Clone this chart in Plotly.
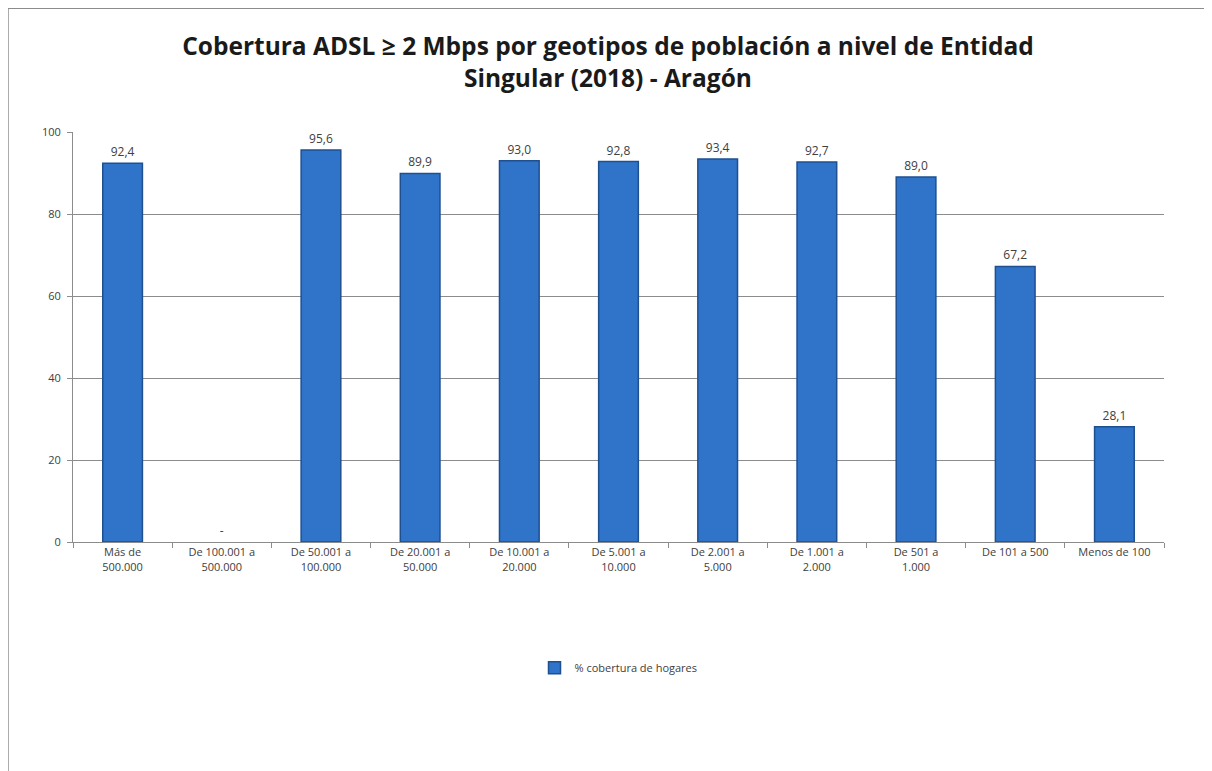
import plotly.graph_objects as go

categories = ["Más de<br>500.000", "De 100.001 a<br>500.000", "De 50.001 a<br>100.000",
              "De 20.001 a<br>50.000", "De 10.001 a<br>20.000", "De 5.001 a<br>10.000",
              "De 2.001 a<br>5.000", "De 1.001 a<br>2.000", "De 501 a<br>1.000",
              "De 101 a 500", "Menos de 100"]
values = [92.4, 0, 95.6, 89.9, 93.0, 92.8, 93.4, 92.7, 89.0, 67.2, 28.1]
labels = ["92,4", "-", "95,6", "89,9", "93,0", "92,8", "93,4", "92,7", "89,0", "67,2", "28,1"]
series_name = "% cobertura de hogares"
title_text = "Cobertura ADSL ≥ 2 Mbps por geotipos de población a nivel de Entidad<br>Singular (2018) - Aragón"
y_ticks = [0, 20, 40, 60, 80, 100]

FONT = "Open Sans"

fig = go.Figure()
fig.add_trace(go.Bar(
    x=categories, y=values, name=series_name,
    text=labels, textposition="outside", cliponaxis=False,
    textfont=dict(family=FONT, size=12, color="#404040"),
    marker=dict(color="#3074C9",
                line=dict(color="#1E4F91", width=[0 if v == 0 else 1.5 for v in values])),
))

fig.update_layout(
    width=1212, height=771,
    margin=dict(l=65, r=56, t=124, b=237),
    paper_bgcolor="white", plot_bgcolor="white",
    bargap=0.6,
    title=dict(text=title_text, x=0.495, xanchor="center", xref="container",
               y=0.939, yanchor="middle",
               font=dict(family=FONT, size=24.5, color="#1a1a1a", weight="bold")),
    showlegend=True,
    legend=dict(orientation="h", x=0.5, xanchor="center", y=-0.307, yanchor="middle",
                font=dict(family=FONT, size=11, color="#404040")),
    font=dict(family=FONT),
)
fig.update_yaxes(range=[0, 100], tickvals=y_ticks, showgrid=True, gridcolor="#8c8c8c",
                 gridwidth=1, showline=True, linecolor="#8c8c8c", ticks="outside",
                 ticklen=5, tickcolor="#8c8c8c", zeroline=False, ticklabelstandoff=4,
                 tickfont=dict(family=FONT, size=11, color="#404040"))
fig.update_xaxes(showline=True, linecolor="#8c8c8c", ticks="outside", tickson="boundaries",
                 ticklen=5, tickcolor="#8c8c8c",
                 tickfont=dict(family=FONT, size=11, color="#404040"))

fig.add_shape(type="rect", xref="paper", yref="paper",
              x0=-0.0596, x1=1.043, y0=-0.6, y1=1.302,
              line=dict(color="#8c8c8c", width=1.5), fillcolor="rgba(0,0,0,0)", layer="below")

fig.write_html("out.html")
